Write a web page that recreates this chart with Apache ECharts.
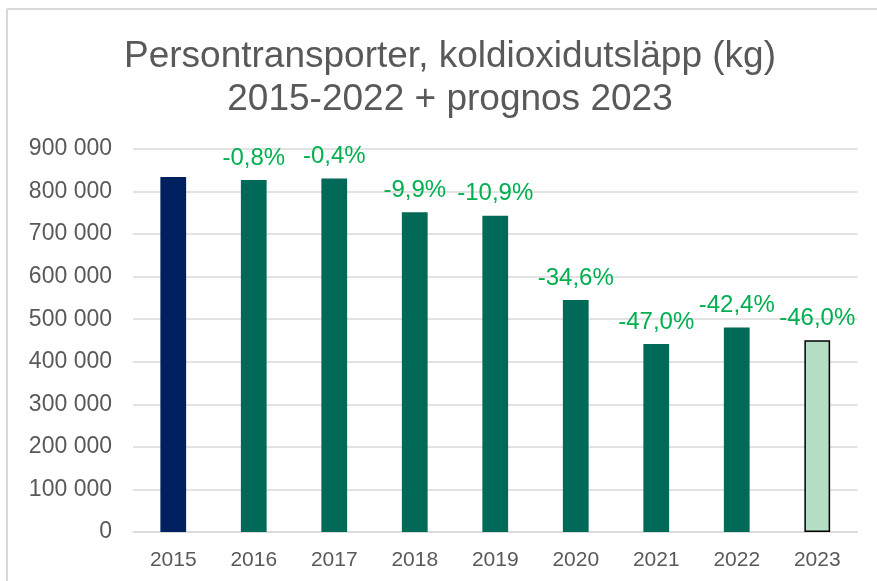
<!DOCTYPE html>
<html>
<head>
<meta charset="utf-8">
<script src="https://cdn.jsdelivr.net/npm/echarts@6/dist/echarts.min.js"></script>
<style>
html,body{margin:0;padding:0;background:#fff;}
#chart{width:877px;height:581px;}
</style>
</head>
<body>
<div id="chart"></div>
<script>
const categories = ['2015','2016','2017','2018','2019','2020','2021','2022','2023'];
const values = [834000, 827300, 830700, 751400, 743100, 545400, 442000, 480400, 450400];
const changeLabels = ['', '-0,8%', '-0,4%', '-9,9%', '-10,9%', '-34,6%', '-47,0%', '-42,4%', '-46,0%'];
const yTicks = [0, 100000, 200000, 300000, 400000, 500000, 600000, 700000, 800000, 900000];

const FONT = '"Liberation Sans", Arial, sans-serif';
const colorFirst = '#002060';
const colorMain = '#006957';
const colorForecast = '#b4dfc5';

const data = values.map((v, i) => {
  let style;
  if (i === 0) style = { color: colorFirst };
  else if (i === values.length - 1) style = { color: colorForecast, borderColor: '#000', borderWidth: 1.5 };
  else style = { color: colorMain };
  return { value: v, itemStyle: style };
});

const chart = echarts.init(document.getElementById('chart'));
chart.setOption({
  animation: false,
  title: {
    text: 'Persontransporter, koldioxidutsläpp (kg)\n2015-2022 + prognos 2023',
    left: 445, top: 30, textAlign: 'center',
    textStyle: { fontFamily: FONT, fontSize: 37, fontWeight: 'normal', color: '#595959', lineHeight: 43 }
  },
  graphic: [
    { type: 'line', shape: { x1: 7, y1: 9, x2: 877, y2: 9 }, style: { stroke: '#d9d9d9', lineWidth: 2 } },
    { type: 'line', shape: { x1: 7, y1: 9, x2: 7, y2: 581 }, style: { stroke: '#d9d9d9', lineWidth: 2 } }
  ],
  grid: { left: 133, right: 19.5, top: 149, bottom: 49, containLabel: false },
  xAxis: {
    type: 'category',
    data: categories,
    axisTick: { show: false },
    axisLine: { lineStyle: { color: '#d9d9d9', width: 1.5 } },
    axisLabel: { color: '#595959', fontFamily: FONT, fontSize: 21, margin: 18 }
  },
  yAxis: {
    type: 'value',
    min: yTicks[0], max: yTicks[yTicks.length - 1], interval: yTicks[1] - yTicks[0],
    axisLine: { show: false }, axisTick: { show: false },
    splitLine: { lineStyle: { color: '#d9d9d9', width: 1.5 } },
    axisLabel: {
      color: '#595959', fontFamily: FONT, fontSize: 23, margin: 21,
      formatter: v => String(v).replace(/\B(?=(\d{3})+(?!\d))/g, ' ')
    }
  },
  series: [{
    type: 'bar',
    data: data,
    barWidth: '32%',
    label: {
      show: true, position: 'top', distance: 10,
      color: '#00b050', fontFamily: FONT, fontSize: 24,
      formatter: p => changeLabels[p.dataIndex]
    }
  }]
});
</script>
</body>
</html>
